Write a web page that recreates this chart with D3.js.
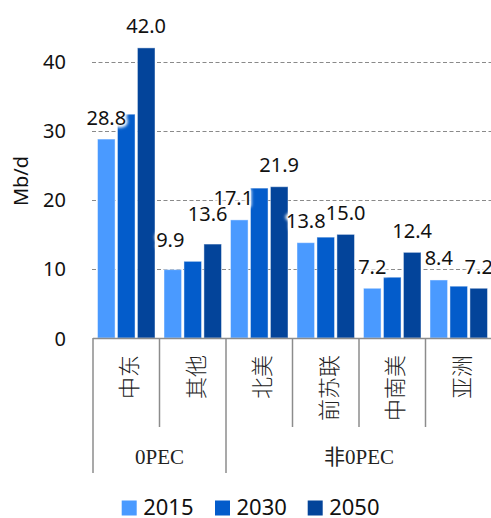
<!DOCTYPE html>
<html>
<head>
<meta charset="utf-8">
<script src="https://cdn.jsdelivr.net/npm/d3@7/dist/d3.min.js"></script>
<style>
  html, body { margin: 0; padding: 0; background: #fff; }
  svg { display: block; }
</style>
</head>
<body>
<svg id="chart" width="491" height="518"></svg>
<script>
// Regions and their OPEC grouping
const regions = ["中东", "其他", "北美", "前苏联", "中南美", "亚洲"];
const groups = [
  { name: "0PEC", from: 0, to: 2 },
  { name: "非0PEC", from: 2, to: 6 }
];
const years = ["2015", "2030", "2050"];

// Oil supply, Mb/d
const values2015 = [28.8, 9.9, 17.1, 13.8, 7.2, 8.4];
const values2030 = [32.4, 11.1, 21.7, 14.6, 8.8, 7.5];
const values2050 = [42.0, 13.6, 21.9, 15.0, 12.4, 7.2];
const labelledYears = ["2015", "2050"];

const yTicks = [0, 10, 20, 30, 40];
const colors = ["#4a9aff", "#035ccb", "#03449a"];

const seriesValues = { "2015": values2015, "2030": values2030, "2050": values2050 };

// hand-placed label nudges (region index, year) -> [dx, dy]
const labelNudge = { "1-2015": [-2.5, -8], "1-2050": [-5, -9], "2-2015": [-6, 0] };

const svg = d3.select("#chart");
const left = 93, right = 492, baseY = 338;

const x0 = d3.scaleBand().domain(regions).range([left, right]).padding(0);
const x1 = d3.scaleBand().domain(years).range([4.5, x0.bandwidth() - 4.5]).paddingInner(0.12).paddingOuter(0);
const y = d3.scaleLinear().domain([0, 40]).range([baseY, 61.7]);
const color = d3.scaleOrdinal().domain(years).range(colors);

const numFont = "'Noto Sans', 'Open Sans', sans-serif";

// glow filter for data labels
const defs = svg.append("defs");
const f = defs.append("filter").attr("id", "glow").attr("x", "-30%").attr("y", "-50%").attr("width", "160%").attr("height", "200%");
f.append("feGaussianBlur").attr("stdDeviation", 1.6);

// gridlines
svg.append("g").selectAll("line").data(yTicks.filter(d => d > 0)).join("line")
  .attr("x1", left - 1).attr("x2", right)
  .attr("y1", d => Math.round(y(d)) + 0.5).attr("y2", d => Math.round(y(d)) + 0.5)
  .attr("stroke", "#8a8a8a").attr("stroke-width", 1.2).attr("stroke-dasharray", "4,2.5");

// y-axis tick labels
const yAxis = d3.axisLeft(y).tickValues(yTicks).tickSize(0).tickPadding(0);
const ya = svg.append("g").attr("transform", `translate(66,0)`).call(yAxis);
ya.select(".domain").remove();
ya.selectAll("text").attr("font-family", numFont).attr("font-size", 20).attr("fill", "#111").attr("dy", "0.35em");

// y-axis title
svg.append("text")
  .attr("transform", `translate(20,181) rotate(-90)`)
  .attr("text-anchor", "middle").attr("dominant-baseline", "central")
  .attr("font-family", numFont).attr("font-size", 20).attr("fill", "#111")
  .text("Mb/d");

// bars
const gBars = svg.append("g");
regions.forEach((r, i) => {
  years.forEach(yr => {
    const v = seriesValues[yr][i];
    gBars.append("rect")
      .attr("x", x0(r) + x1(yr))
      .attr("y", y(v))
      .attr("width", x1.bandwidth())
      .attr("height", baseY - y(v))
      .attr("fill", color(yr))
      .attr("stroke", "rgba(255,255,255,0.45)")
      .attr("stroke-width", 1);
  });
});

// category axis line and separators
const gAxis = svg.append("g").attr("stroke", "#8c8c8c").attr("stroke-width", 1.5);
gAxis.append("line").attr("x1", left).attr("x2", right).attr("y1", baseY + 0.5).attr("y2", baseY + 0.5);
const groupEdges = new Set(groups.flatMap(g => [g.from, g.to]));
d3.range(regions.length + 1).forEach(k => {
  const xx = k < regions.length ? x0(regions[k]) : right;
  gAxis.append("line")
    .attr("x1", xx).attr("x2", xx)
    .attr("y1", baseY).attr("y2", groupEdges.has(k) ? 473 : 427);
});

// category labels (rotated)
svg.append("g").selectAll("text").data(regions).join("text")
  .attr("transform", d => `translate(${x0(d) + x0.bandwidth() / 2 + 1},355) rotate(-90)`)
  .attr("text-anchor", "end").attr("dominant-baseline", "central")
  .attr("font-family", "'Noto Sans CJK SC', sans-serif").attr("font-size", 22).attr("font-weight", 300)
  .attr("fill", "#222")
  .text(d => d);

// group labels
svg.append("g").selectAll("text").data(groups).join("text")
  .attr("x", d => (x0(regions[d.from]) + (d.to < regions.length ? x0(regions[d.to]) : right)) / 2)
  .attr("y", 464)
  .attr("text-anchor", "middle")
  .attr("font-family", "'Liberation Serif', 'Noto Sans CJK SC', serif").attr("font-size", 21)
  .attr("fill", "#222")
  .text(d => d.name);

// data labels
const labels = [];
regions.forEach((r, i) => {
  labelledYears.forEach(yr => {
    const v = seriesValues[yr][i];
    const nudge = labelNudge[`${i}-${yr}`] || [0, 0];
    labels.push({
      text: v.toFixed(1),
      x: x0(r) + x1(yr) + x1.bandwidth() / 2 + nudge[0],
      y: y(v) - 22 + nudge[1]
    });
  });
});
const gLab = svg.append("g").attr("font-family", numFont).attr("font-size", 20)
  .attr("text-anchor", "middle").attr("dominant-baseline", "central");
gLab.selectAll("text.halo").data(labels).join("text").attr("class", "halo")
  .attr("x", d => d.x).attr("y", d => d.y)
  .attr("fill", "#fff").attr("stroke", "#fff").attr("stroke-width", 5).attr("stroke-linejoin", "round")
  .attr("filter", "url(#glow)")
  .text(d => d.text);
gLab.selectAll("text.val").data(labels).join("text").attr("class", "val")
  .attr("x", d => d.x).attr("y", d => d.y).attr("fill", "#111")
  .text(d => d.text);

// legend
const legendX = [121.7, 215, 307.7];
const gLeg = svg.append("g");
years.forEach((yr, k) => {
  gLeg.append("rect").attr("x", legendX[k]).attr("y", 500.5).attr("width", 15).attr("height", 15).attr("fill", color(yr));
  gLeg.append("text").attr("x", legendX[k] + 21.5).attr("y", 515)
    .attr("font-family", numFont).attr("font-size", 22).attr("fill", "#111")
    .text(yr);
});
</script>
</body>
</html>
